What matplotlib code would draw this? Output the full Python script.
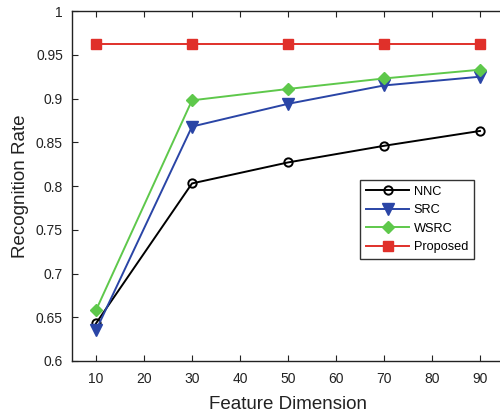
import matplotlib
matplotlib.use("Agg")
import matplotlib.pyplot as plt

plt.rcParams['font.family'] = ['Liberation Sans', 'DejaVu Sans']

dims = [10, 30, 50, 70, 90]
nnc = [0.643, 0.803, 0.827, 0.846, 0.863]
src = [0.635, 0.868, 0.894, 0.915, 0.925]
wsrc = [0.658, 0.898, 0.911, 0.923, 0.933]
proposed = [0.962, 0.962, 0.962, 0.962, 0.962]

x_ticks = [10, 20, 30, 40, 50, 60, 70, 80, 90]
y_ticks = [0.6, 0.65, 0.7, 0.75, 0.8, 0.85, 0.9, 0.95, 1.0]
y_ticklabels = ['0.6', '0.65', '0.7', '0.75', '0.8', '0.85', '0.9', '0.95', '1']

fig = plt.figure(figsize=(5.0, 4.18), dpi=100)
ax = fig.add_axes([0.144, 0.1364, 0.864, 0.837])

ax.plot(dims, nnc, color='black', lw=1.4, marker='o', ms=6, mfc='none',
        mew=1.4, label='NNC')
ax.plot(dims, src, color='#2a45a6', lw=1.4, marker='v', ms=9,
        label='SRC')
ax.plot(dims, wsrc, color='#5ec84b', lw=1.4, marker='D', ms=6.5,
        label='WSRC')
ax.plot(dims, proposed, color='#e0302a', lw=1.4, marker='s', ms=7.5,
        label='Proposed')

ax.set_xlim(5, 95)
ax.set_ylim(0.6, 1.0)
ax.set_xticks(x_ticks)
ax.set_yticks(y_ticks)
ax.set_yticklabels(y_ticklabels)
ax.tick_params(direction='in', top=True, right=False, labelsize=10,
               length=4, width=0.8, colors='#222222', labelcolor='#222222')
ax.tick_params(axis='x', pad=8)
ax.tick_params(axis='y', pad=6.5)
ax.spines['right'].set_visible(False)
for s in ax.spines.values():
    s.set_linewidth(1.0)
    s.set_color('#222222')

ax.set_xlabel('Feature Dimension', fontsize=13.5, color='#222222', labelpad=7)
ax.set_ylabel('Recognition Rate', fontsize=13.5, color='#222222', labelpad=5)

leg = ax.legend(loc='upper left', bbox_to_anchor=(0.667, 0.517),
                fontsize=9.2, frameon=True, fancybox=False,
                edgecolor='black', handlelength=3.4, borderpad=0.45,
                labelspacing=0.5, handletextpad=0.35, borderaxespad=0)
leg.get_frame().set_linewidth(1.0)

fig.savefig('out.png', dpi=100)
